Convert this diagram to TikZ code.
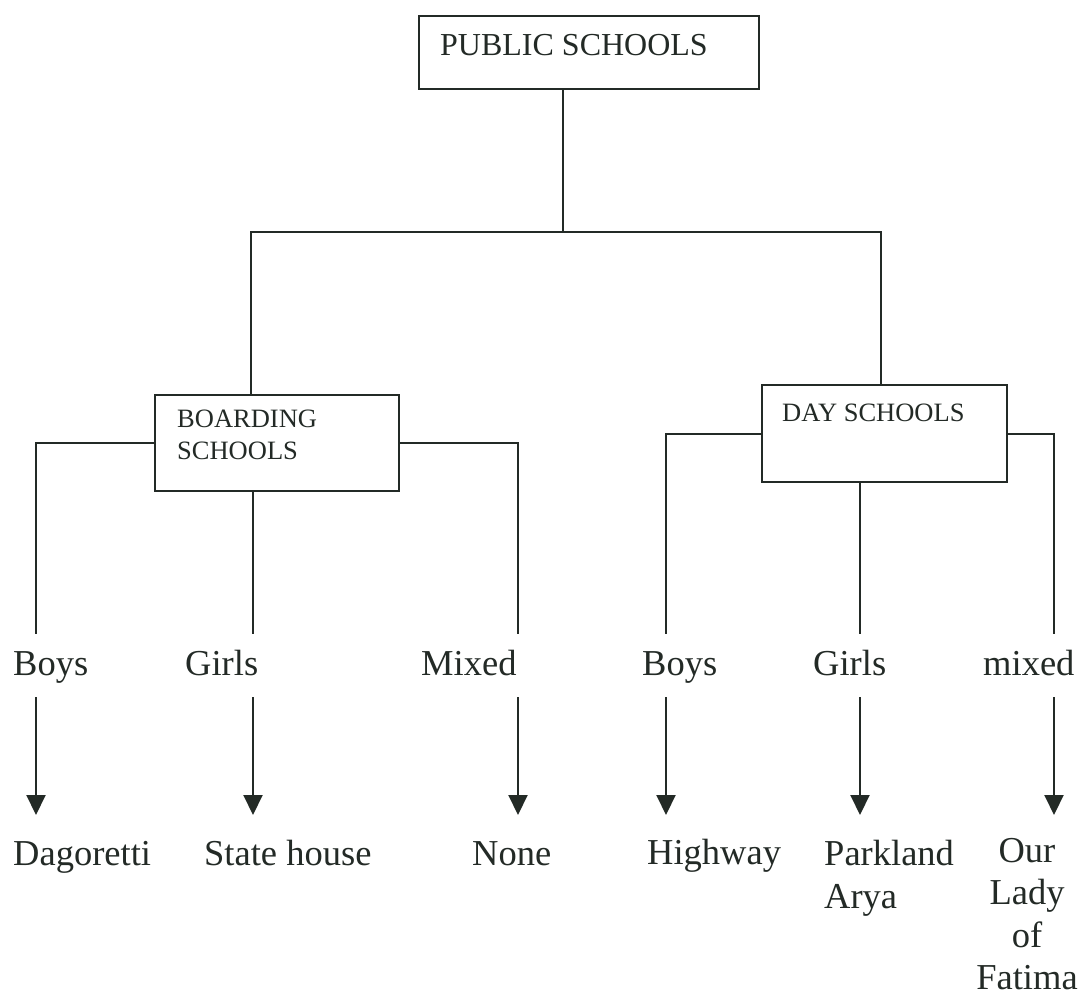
\documentclass[tikz,border=0pt]{standalone}
\usepackage{fontspec}
\setmainfont{Liberation Serif}
\usetikzlibrary{arrows.meta}
\definecolor{ink}{RGB}{35,42,38}
\begin{document}
\begin{tikzpicture}[x=1pt,y=-1pt,
  line/.style={draw=ink,line width=2pt},
  arr/.style={line,-{Triangle[width=19pt,length=20pt]}},
  box/.style={draw=ink,line width=2pt,anchor=north west,inner sep=0pt},
  boxtxt/.style={anchor=base west,inner sep=0pt,text=ink,font=\fontsize{26.5}{32}\selectfont},
  lab/.style={anchor=base west,inner sep=0pt,text=ink,font=\fontsize{36.5}{43}\selectfont},
  multi/.style={anchor=north,inner sep=0pt,text=ink,font=\fontsize{36.5}{42.5}\selectfont},
]
\useasboundingbox[fill=white] (0,0) rectangle (1081,996);

% boxes
\node[box,minimum width=340pt,minimum height=73pt] (ps) at (418,15) {};
\node[anchor=base west,inner sep=0pt,text=ink,font=\fontsize{32}{38}\selectfont] (pst) at (440,55) {PUBLIC SCHOOLS};
\node[box,minimum width=244pt,minimum height=96pt] (bs) at (154,394) {};
\node[anchor=north west,inner sep=0pt,text=ink,align=left,font=\fontsize{26.5}{32}\selectfont] (bst) at (177,410) {BOARDING\\SCHOOLS};
\node[box,minimum width=245pt,minimum height=97pt] (ds) at (761,384) {};
\node[boxtxt] (dst) at (782,421) {DAY SCHOOLS};

% trunk
\coordinate (ja) at (563,232);
\coordinate (jl) at (251,232);
\coordinate (jr) at (881,232);
\draw[line] (ps.south -| ja) -- (ja);
\draw[line] (bs.north -| jl) -- (jl) -- (jr) -- (ds.north -| jr);

% branch ends above labels
\coordinate (b1) at (36,634);
\coordinate (b2) at (253,634);
\coordinate (b3) at (518,634);
\coordinate (d1) at (666,634);
\coordinate (d2) at (860,634);
\coordinate (d3) at (1054,634);
\draw[line] (bs.west) -| (b1);
\draw[line] (bs.south -| b2) -- (b2);
\draw[line] (bs.east) -| (b3);
\draw[line] (ds.west) -| (d1);
\draw[line] (ds.south -| d2) -- (d2);
\draw[line] (ds.east) -| (d3);

% category labels
\node[lab] (l1) at (13,675) {Boys};
\node[lab] (l2) at (185,675) {Girls};
\node[lab] (l3) at (421,675) {Mixed};
\node[lab] (l4) at (642,675) {Boys};
\node[lab] (l5) at (813,675) {Girls};
\node[lab] (l6) at (983,675) {mixed};

% arrows
\foreach \i/\x in {1/36,2/253,3/518,4/666,5/860,6/1054}{
  \coordinate (s\i) at (\x,697);
  \coordinate (e\i) at (\x,815);
  \draw[arr] (s\i) -- (e\i);
}

% school names
\node[lab] (n1) at (13,865) {Dagoretti};
\node[lab] (n2) at (204,865) {State house};
\node[lab] (n3) at (472,865) {None};
\node[lab] (n4) at (647,864) {Highway};
\node[anchor=north west,inner sep=0pt,text=ink,align=left,font=\fontsize{36.5}{43}\selectfont] (n5) at (824,840) {Parkland\\Arya};
\node[multi,align=center] (n6) at (1027,838) {Our\\Lady\\of\\Fatima};
\end{tikzpicture}
\end{document}
